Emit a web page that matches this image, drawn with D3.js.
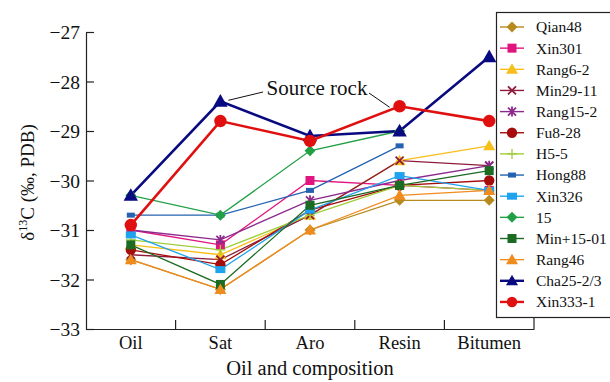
<!DOCTYPE html>
<html>
<head>
<meta charset="utf-8">
<script src="https://cdn.jsdelivr.net/npm/d3@7"></script>
<style>
  body { margin: 0; background: #fff; }
  text { font-family: "Liberation Serif", "Times New Roman", serif; fill: #111; }
</style>
</head>
<body>
<script>
const width = 610, height = 382;
const margin = { top: 32, right: 76, bottom: 53, left: 86 };

// categories and tick labels
const categories = ['Oil', 'Sat', 'Aro', 'Resin', 'Bitumen'];
const yTicks = [-27, -28, -29, -30, -31, -32, -33];

// series (null = no value)
const names = ['Qian48', 'Xin301', 'Rang6-2', 'Min29-11', 'Rang15-2', 'Fu8-28', 'H5-5',
  'Hong88', 'Xin326', '15', 'Min+15-01', 'Rang46', 'Cha25-2/3', 'Xin333-1'];
const qian48   = [-31.6, -32.2, -31.0, -30.4, -30.4];
const xin301   = [-31.0, -31.3, -30.0, -30.1, -30.2];
const rang6_2  = [-31.3, -31.5, -30.7, -29.6, -29.3];
const min29_11 = [-31.5, -31.6, -30.7, -29.6, -29.7];
const rang15_2 = [-31.0, -31.2, -30.4, -30.0, -29.7];
const fu8_28   = [-31.4, -31.7, -30.6, -30.1, -30.0];
const h5_5     = [-31.2, -31.4, -30.7, -30.1, -30.2];
const hong88   = [-30.7, -30.7, -30.2, -29.3, null];
const xin326   = [-31.1, -31.8, -30.6, -29.9, -30.2];
const s15      = [-30.3, -30.7, -29.4, -29.0, null];
const min15_01 = [-31.3, -32.1, -30.5, -30.1, -29.8];
const rang46   = [-31.6, -32.2, -31.0, -30.3, -30.2];
const cha25    = [-30.3, -28.4, -29.1, -29.0, -27.5];
const xin333   = [-30.9, -28.8, -29.2, -28.5, -28.8];
const values = [qian48, xin301, rang6_2, min29_11, rang15_2, fu8_28, h5_5,
  hong88, xin326, s15, min15_01, rang46, cha25, xin333];

const colors = ['#b8891e', '#e0157f', '#f7bf1a', '#8e1b3c', '#8c2a8c', '#a50d0d', '#9fcd3a',
  '#2563b0', '#1fa3ef', '#22a046', '#1b6b22', '#f08c1e', '#0a0a80', '#e01010'];
const shapes = ['diamond', 'square', 'triangle', 'times', 'asterisk', 'circle', 'plus',
  'rect', 'wsquare', 'diamond', 'square', 'triangle', 'triangle', 'circle'];
const widths = [1.3, 1.3, 1.3, 1.3, 1.3, 1.3, 1.3, 1.3, 1.3, 1.3, 1.3, 1.3, 2.6, 2.6];

const series = names.map((n, i) => ({
  name: n, color: colors[i], shape: shapes[i], lw: widths[i],
  points: categories.map((c, j) => ({ cat: c, v: values[i][j] }))
}));

const svg = d3.select('body').append('svg')
  .attr('width', width).attr('height', height);

const x = d3.scaleBand().domain(categories)
  .range([margin.left, width - margin.right]).padding(0);
const y = d3.scaleLinear().domain([-33, -27])
  .range([height - margin.bottom, margin.top]);
const cx = c => x(c) + x.bandwidth() / 2;

// marker path drawing
function marker(sel, shape, color, big) {
  const s = big ? 1.2 : 1;
  if (shape === 'circle') {
    sel.append('circle').attr('r', 5.2 * s).attr('fill', color);
  } else if (shape === 'square') {
    sel.append('rect').attr('x', -4.5).attr('y', -4.5).attr('width', 9).attr('height', 9).attr('fill', color);
  } else if (shape === 'wsquare') {
    sel.append('rect').attr('x', -5).attr('y', -3.5).attr('width', 10).attr('height', 7).attr('fill', color);
  } else if (shape === 'rect') {
    sel.append('rect').attr('x', -4).attr('y', -2.5).attr('width', 8).attr('height', 5).attr('fill', color);
  } else if (shape === 'diamond') {
    sel.append('path').attr('d', 'M0,-5.5L5.5,0L0,5.5L-5.5,0Z').attr('fill', color);
  } else if (shape === 'triangle') {
    const r = 6 * s;
    sel.append('path').attr('d', `M0,${-r}L${r},${r * 0.75}L${-r},${r * 0.75}Z`).attr('fill', color);
  } else if (shape === 'times') {
    sel.append('path').attr('d', 'M-4,-4L4,4M-4,4L4,-4').attr('stroke', color).attr('stroke-width', 1.8);
  } else if (shape === 'asterisk') {
    sel.append('path').attr('d', 'M-4,-4L4,4M-4,4L4,-4M0,-5L0,5').attr('stroke', color).attr('stroke-width', 1.8);
  } else if (shape === 'plus') {
    sel.append('path').attr('d', 'M-5,0L5,0M0,-5L0,5').attr('stroke', color).attr('stroke-width', 1.3);
  }
}

// axes
const yAxis = svg.append('g')
  .attr('transform', `translate(${margin.left},0)`)
  .call(d3.axisLeft(y).tickValues(yTicks).tickSizeInner(-8).tickSizeOuter(0)
    .tickPadding(6).tickFormat(d => '\u2212' + Math.abs(d)));
yAxis.selectAll('text').style('font-size', '19.5px').attr('dy', '0.34em');

const xAxis = svg.append('g')
  .attr('transform', `translate(0,${height - margin.bottom})`)
  .call(d3.axisBottom(x).tickSize(0).tickPadding(7));
xAxis.selectAll('text').style('font-size', '18.5px');
svg.selectAll('.domain, .tick line').attr('stroke', '#222').attr('stroke-width', 1.2);

// boundary ticks on the x axis
svg.append('g').selectAll('line')
  .data(categories)
  .join('line')
  .attr('x1', d => x(d) + x.step()).attr('x2', d => x(d) + x.step())
  .attr('y1', height - margin.bottom).attr('y2', (d, i) => height - margin.bottom - (i === 4 ? 11 : 9))
  .attr('stroke', '#222').attr('stroke-width', 1.2);

// lines
const line = d3.line()
  .defined(d => d.v !== null)
  .x(d => cx(d.cat))
  .y(d => y(d.v));

const g = svg.append('g');
g.selectAll('path.line')
  .data(series)
  .join('path')
  .attr('class', 'line')
  .attr('fill', 'none')
  .attr('stroke', d => d.color)
  .attr('stroke-width', d => d.lw)
  .attr('d', d => line(d.points));

series.forEach(s => {
  s.points.filter(p => p.v !== null).forEach(p => {
    const m = g.append('g').attr('transform', `translate(${cx(p.cat)},${y(p.v)})`);
    marker(m, s.shape, s.color, s.lw > 2);
  });
});

// annotation
const tipA = [cx('Sat'), y(cha25[1])];
const tipB = [cx('Resin'), y(xin333[3])];
svg.append('text')
  .attr('x', 317).attr('y', 95)
  .attr('text-anchor', 'middle')
  .style('font-size', '21px')
  .text('Source rock');
svg.append('line')
  .attr('x1', 263).attr('y1', 92).attr('x2', tipA[0] + 8).attr('y2', tipA[1] - 1)
  .attr('stroke', '#111').attr('stroke-width', 1);
svg.append('line')
  .attr('x1', 369).attr('y1', 93).attr('x2', tipB[0] - 10).attr('y2', tipB[1] + 1)
  .attr('stroke', '#111').attr('stroke-width', 1);

// axis titles
svg.append('text')
  .attr('x', (margin.left + width - margin.right) / 2).attr('y', 375)
  .attr('text-anchor', 'middle')
  .style('font-size', '20.5px')
  .text('Oil and composition');

const yt = svg.append('text')
  .attr('transform', `translate(34,${(margin.top + height - margin.bottom) / 2 + 2}) rotate(-90)`)
  .attr('text-anchor', 'middle')
  .style('font-size', '19px');
yt.append('tspan').text('\u03b4');
yt.append('tspan').attr('dy', -7).style('font-size', '12px').text('13');
yt.append('tspan').attr('dy', 7).text('C (\u2030, PDB)');

// legend
const legend = svg.append('g');
legend.append('rect')
  .attr('x', 496.5).attr('y', 12.5).attr('width', 130).attr('height', 305)
  .attr('fill', '#fff').attr('stroke', '#222').attr('stroke-width', 1.2);
const item = legend.selectAll('g.item')
  .data(series)
  .join('g')
  .attr('class', 'item')
  .attr('transform', (d, i) => `translate(0,${27 + i * 21.15})`);
item.append('line')
  .attr('x1', 500).attr('x2', 524)
  .attr('stroke', d => d.color).attr('stroke-width', d => d.lw > 2 ? 2.4 : 1.4);
item.each(function (d) {
  const m = d3.select(this).append('g').attr('transform', 'translate(512,0)');
  marker(m, d.shape, d.color, false);
});
item.append('text')
  .attr('x', 536).attr('dy', '0.35em')
  .style('font-size', '15.5px')
  .text(d => d.name);
</script>
</body>
</html>
